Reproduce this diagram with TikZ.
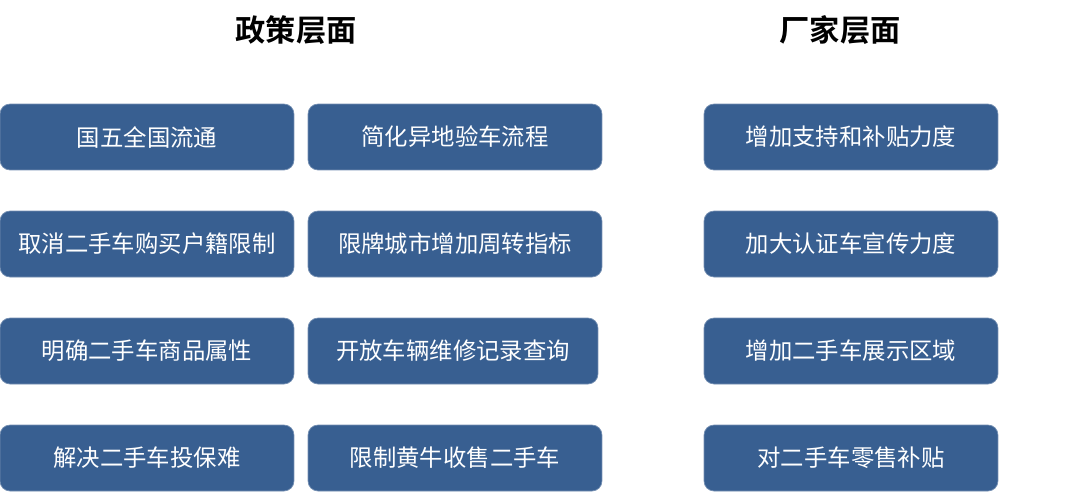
\documentclass[tikz,border=0pt]{standalone}
\usepackage{fontspec}
\newfontfamily\cjk{Noto Sans CJK SC}
\newfontfamily\cjkbold{Noto Sans CJK SC Bold}
\usetikzlibrary{positioning}
\definecolor{boxblue}{RGB}{56,95,145}
\tikzstyle{box} = [fill=boxblue, draw=boxblue!70!white, line width=0.4pt, rounded corners=0.2cm, minimum width=5.88cm, minimum height=1.32cm, inner sep=0pt, text=white, font=\cjk\fontsize{13.3}{15}\selectfont]
\tikzstyle{header} = [font=\cjkbold\fontsize{17.2}{20}\selectfont, text=black]

\begin{document}
\begin{tikzpicture}[x=0.02cm, y=-0.02cm]
      \useasboundingbox (0,0) rectangle (1080,491);
      % headers
      \node[header] (policy) at (296,30) {政策层面};
      \node[header] (maker) at (840,30) {厂家层面};

      % policy, left column
      \node[box] (p11) at (147,137) {国五全国流通};
      \node[box] (p21) at (147,244) {取消二手车购买户籍限制};
      \node[box] (p31) at (147,351) {明确二手车商品属性};
      \node[box] (p41) at (147,458) {解决二手车投保难};
      % policy, right column
      \node[box] (p12) at (455,137) {简化异地验车流程};
      \node[box] (p22) at (455,244) {限牌城市增加周转指标};
      \node[box, minimum width=5.8cm] (p32) at (453,351) {开放车辆维修记录查询};
      \node[box] (p42) at (455,458) {限制黄牛收售二手车};

      % makers
      \node[box] (m1) at (851,137) {增加支持和补贴力度};
      \node[box] (m2) at (851,244) {加大认证车宣传力度};
      \node[box] (m3) at (851,351) {增加二手车展示区域};
      \node[box] (m4) at (851,458) {对二手车零售补贴};
\end{tikzpicture}
\end{document}
